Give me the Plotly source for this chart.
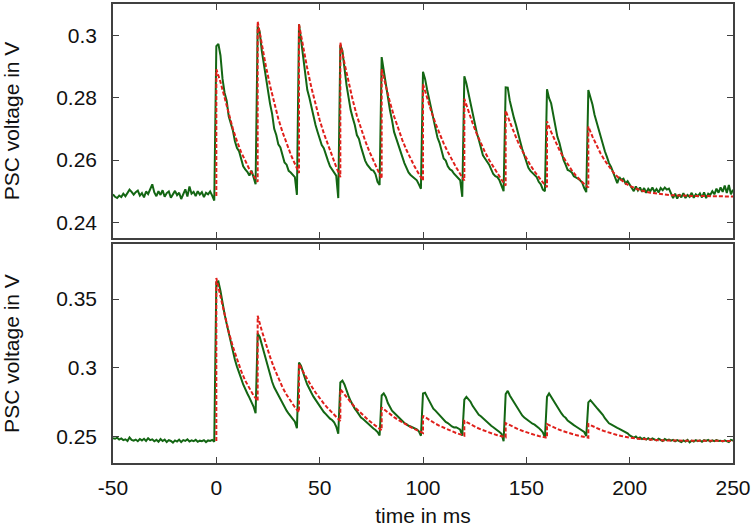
import numpy as np
import plotly.graph_objects as go

# ---------------- data ----------------
t_start, t_end = -50, 250          # sampling grid of the measured traces (1 ms)
stim_onsets = [0, 20, 40, 60, 80, 100, 120, 140, 160, 180]
x_tickvals = [-50, 0, 50, 100, 150, 200, 250]
x_ticktext = ["-50", "0", "50", "100", "150", "200", "250"]

# measured PSC, top panel (t = -50 ... 250 ms, 1 ms steps)
top_green = [
    # -50 .. -1 baseline
    0.2490, 0.2482, 0.2478, 0.2486, 0.2481, 0.2492, 0.2484, 0.2495, 0.2505, 0.2498,
    0.2489, 0.2497, 0.2502, 0.2486, 0.2494, 0.2480, 0.2499, 0.2491, 0.2510, 0.2522,
    0.2496, 0.2484, 0.2500, 0.2488, 0.2503, 0.2482, 0.2494, 0.2499, 0.2479, 0.2492,
    0.2501, 0.2487, 0.2495, 0.2475, 0.2490, 0.2506, 0.2483, 0.2515, 0.2492, 0.2498,
    0.2484, 0.2500, 0.2489, 0.2497, 0.2481, 0.2495, 0.2490, 0.2499, 0.2486, 0.2470,
    # 0 .. 19
    0.2965, 0.2972, 0.2935, 0.2860, 0.2815, 0.2790, 0.2740, 0.2718, 0.2695, 0.2660,
    0.2638, 0.2628, 0.2600, 0.2580, 0.2570, 0.2562, 0.2550, 0.2566, 0.2545, 0.2522,
    # 20 .. 39
    0.3028, 0.3010, 0.2950, 0.2905, 0.2870, 0.2810, 0.2780, 0.2748, 0.2700, 0.2680,
    0.2650, 0.2640, 0.2618, 0.2592, 0.2585, 0.2565, 0.2560, 0.2552, 0.2545, 0.2488,
    # 40 .. 59
    0.3035, 0.2985, 0.2925, 0.2870, 0.2825, 0.2800, 0.2768, 0.2738, 0.2712, 0.2690,
    0.2672, 0.2648, 0.2638, 0.2615, 0.2598, 0.2580, 0.2570, 0.2562, 0.2550, 0.2478,
    # 60 .. 79
    0.2968, 0.2950, 0.2890, 0.2840, 0.2800, 0.2760, 0.2735, 0.2712, 0.2680, 0.2668,
    0.2642, 0.2620, 0.2598, 0.2585, 0.2576, 0.2568, 0.2566, 0.2555, 0.2530, 0.2520,
    # 80 .. 99
    0.2930, 0.2885, 0.2840, 0.2790, 0.2760, 0.2728, 0.2690, 0.2670, 0.2648, 0.2625,
    0.2610, 0.2590, 0.2572, 0.2560, 0.2552, 0.2546, 0.2540, 0.2535, 0.2522, 0.2508,
    # 100 .. 119
    0.2883, 0.2860, 0.2825, 0.2795, 0.2760, 0.2735, 0.2700, 0.2672, 0.2655, 0.2625,
    0.2605, 0.2598, 0.2580, 0.2570, 0.2566, 0.2556, 0.2550, 0.2542, 0.2535, 0.2482,
    # 120 .. 139
    0.2868, 0.2845, 0.2812, 0.2780, 0.2750, 0.2720, 0.2688, 0.2665, 0.2640, 0.2615,
    0.2605, 0.2596, 0.2585, 0.2570, 0.2555, 0.2548, 0.2545, 0.2535, 0.2518, 0.2500,
    # 140 .. 159
    0.2833, 0.2832, 0.2790, 0.2760, 0.2735, 0.2712, 0.2682, 0.2660, 0.2635, 0.2615,
    0.2590, 0.2575, 0.2565, 0.2558, 0.2552, 0.2545, 0.2530, 0.2522, 0.2505, 0.2500,
    # 160 .. 179
    0.2827, 0.2798, 0.2782, 0.2745, 0.2705, 0.2675, 0.2655, 0.2625, 0.2600, 0.2585,
    0.2568, 0.2565, 0.2560, 0.2548, 0.2545, 0.2540, 0.2535, 0.2528, 0.2510, 0.2497,
    # 180 .. 250
    0.2824, 0.2800, 0.2778, 0.2745, 0.2720, 0.2695, 0.2672, 0.2650, 0.2628, 0.2610,
    0.2590, 0.2578, 0.2560, 0.2548, 0.2526, 0.2545, 0.2536, 0.2540, 0.2525, 0.2532,
    0.2520, 0.2508, 0.2500, 0.2515, 0.2502, 0.2512, 0.2498, 0.2510, 0.2495, 0.2508,
    0.2500, 0.2512, 0.2498, 0.2507, 0.2496, 0.2510, 0.2503, 0.2512, 0.2505, 0.2508,
    0.2490, 0.2478, 0.2492, 0.2476, 0.2490, 0.2480, 0.2494, 0.2478, 0.2488, 0.2482,
    0.2495, 0.2479, 0.2490, 0.2484, 0.2493, 0.2480, 0.2496, 0.2478, 0.2492, 0.2488,
    0.2500, 0.2490, 0.2508, 0.2495, 0.2512, 0.2498, 0.2518, 0.2494, 0.2520, 0.2490,
    0.2505,
]

# measured PSC, bottom panel (t = -50 ... 250 ms, 1 ms steps)
bot_green = [
    # -50 .. -1 baseline
    0.2490, 0.2486, 0.2494, 0.2480, 0.2488, 0.2476, 0.2482, 0.2470, 0.2496, 0.2478,
    0.2472, 0.2480, 0.2468, 0.2484, 0.2474, 0.2486, 0.2470, 0.2490, 0.2476, 0.2482,
    0.2468, 0.2478, 0.2464, 0.2484, 0.2470, 0.2480, 0.2462, 0.2476, 0.2470, 0.2458,
    0.2474, 0.2466, 0.2480, 0.2462, 0.2476, 0.2470, 0.2482, 0.2466, 0.2474, 0.2468,
    0.2478, 0.2464, 0.2472, 0.2468, 0.2476, 0.2462, 0.2474, 0.2470, 0.2478, 0.2465,
    # 0 .. 19
    0.3620, 0.3628, 0.3560, 0.3460, 0.3390, 0.3320, 0.3250, 0.3195, 0.3110, 0.3060,
    0.3010, 0.2960, 0.2925, 0.2880, 0.2840, 0.2815, 0.2785, 0.2755, 0.2720, 0.2672,
    # 20 .. 39
    0.3250, 0.3225, 0.3170, 0.3110, 0.3060, 0.3000, 0.2950, 0.2900, 0.2860, 0.2830,
    0.2800, 0.2770, 0.2740, 0.2715, 0.2690, 0.2668, 0.2650, 0.2625, 0.2610, 0.2562,
    # 40 .. 59
    0.3040, 0.3015, 0.2960, 0.2920, 0.2880, 0.2845, 0.2820, 0.2792, 0.2770, 0.2740,
    0.2720, 0.2698, 0.2680, 0.2665, 0.2645, 0.2632, 0.2622, 0.2605, 0.2575, 0.2522,
    # 60 .. 79
    0.2895, 0.2908, 0.2880, 0.2830, 0.2795, 0.2760, 0.2730, 0.2705, 0.2685, 0.2665,
    0.2640, 0.2630, 0.2615, 0.2600, 0.2585, 0.2572, 0.2560, 0.2550, 0.2535, 0.2510,
    # 80 .. 99
    0.2800, 0.2815, 0.2790, 0.2745, 0.2715, 0.2690, 0.2675, 0.2660, 0.2642, 0.2628,
    0.2612, 0.2600, 0.2592, 0.2580, 0.2575, 0.2568, 0.2562, 0.2555, 0.2540, 0.2508,
    # 100 .. 119
    0.2815, 0.2820, 0.2790, 0.2760, 0.2735, 0.2705, 0.2690, 0.2672, 0.2660, 0.2640,
    0.2620, 0.2608, 0.2600, 0.2585, 0.2575, 0.2568, 0.2570, 0.2562, 0.2552, 0.2508,
    # 120 .. 139
    0.2770, 0.2790, 0.2775, 0.2755, 0.2725, 0.2700, 0.2680, 0.2660, 0.2650, 0.2635,
    0.2622, 0.2612, 0.2590, 0.2580, 0.2570, 0.2556, 0.2545, 0.2535, 0.2522, 0.2468,
    # 140 .. 159
    0.2810, 0.2834, 0.2800, 0.2775, 0.2750, 0.2720, 0.2695, 0.2675, 0.2655, 0.2640,
    0.2628, 0.2620, 0.2608, 0.2595, 0.2588, 0.2578, 0.2565, 0.2550, 0.2532, 0.2495,
    # 160 .. 179
    0.2790, 0.2815, 0.2790, 0.2765, 0.2738, 0.2710, 0.2688, 0.2670, 0.2650, 0.2638,
    0.2618, 0.2605, 0.2598, 0.2585, 0.2575, 0.2566, 0.2558, 0.2548, 0.2535, 0.2505,
    # 180 .. 250
    0.2750, 0.2766, 0.2745, 0.2725, 0.2712, 0.2695, 0.2680, 0.2660, 0.2635, 0.2615,
    0.2598, 0.2590, 0.2580, 0.2572, 0.2565, 0.2558, 0.2550, 0.2545, 0.2532, 0.2525,
    0.2510, 0.2500, 0.2494, 0.2502, 0.2488, 0.2496, 0.2484, 0.2492, 0.2480, 0.2490,
    0.2478, 0.2488, 0.2482, 0.2474, 0.2486, 0.2478, 0.2470, 0.2484, 0.2476, 0.2480,
    0.2472, 0.2478, 0.2468, 0.2476, 0.2470, 0.2462, 0.2474, 0.2466, 0.2478, 0.2460,
    0.2472, 0.2466, 0.2476, 0.2468, 0.2474, 0.2464, 0.2476, 0.2470, 0.2478, 0.2466,
    0.2474, 0.2468, 0.2476, 0.2470, 0.2472, 0.2466, 0.2474, 0.2470, 0.2462, 0.2478,
    0.2472,
]

# model (red dashed): value at each stimulus onset before the jump, then the
# decay after each stimulus sampled at the offsets below (ms after onset)
red_offsets = [0, 2, 4, 6, 8, 10, 12, 14, 16, 18, 20]
red_tail_offsets = [0, 2, 4, 6, 8, 10, 12, 14, 16, 18, 20, 25, 30, 35, 40, 50, 60, 70]

top_red_rest = 0.2485
top_red = [
    [0.2891, 0.2850, 0.2800, 0.2745, 0.2700, 0.2660, 0.2625, 0.2598, 0.2570, 0.2550, 0.2530],
    [0.3044, 0.2970, 0.2900, 0.2838, 0.2782, 0.2732, 0.2690, 0.2652, 0.2618, 0.2588, 0.2558],
    [0.3035, 0.2962, 0.2893, 0.2832, 0.2777, 0.2728, 0.2686, 0.2648, 0.2612, 0.2578, 0.2545],
    [0.2977, 0.2910, 0.2848, 0.2792, 0.2742, 0.2700, 0.2662, 0.2628, 0.2598, 0.2568, 0.2540],
    [0.2891, 0.2836, 0.2785, 0.2740, 0.2700, 0.2664, 0.2632, 0.2604, 0.2578, 0.2555, 0.2534],
    [0.2843, 0.2798, 0.2756, 0.2718, 0.2684, 0.2653, 0.2626, 0.2600, 0.2577, 0.2555, 0.2534],
    [0.2796, 0.2755, 0.2718, 0.2684, 0.2653, 0.2625, 0.2600, 0.2578, 0.2556, 0.2537, 0.2518],
    [0.2758, 0.2722, 0.2688, 0.2657, 0.2630, 0.2605, 0.2583, 0.2563, 0.2545, 0.2528, 0.2513],
    [0.2724, 0.2690, 0.2660, 0.2632, 0.2608, 0.2586, 0.2567, 0.2550, 0.2536, 0.2523, 0.2512],
    [0.2707, 0.2675, 0.2646, 0.2620, 0.2598, 0.2578, 0.2561, 0.2547, 0.2535, 0.2525, 0.2517,
     0.2503, 0.2495, 0.2490, 0.2487, 0.2485, 0.2484, 0.2483],
]

bot_red_rest = 0.2470
bot_red = [
    [0.3653, 0.3520, 0.3385, 0.3262, 0.3155, 0.3060, 0.2978, 0.2908, 0.2850, 0.2800, 0.2761],
    [0.3379, 0.3270, 0.3170, 0.3080, 0.2998, 0.2925, 0.2860, 0.2805, 0.2757, 0.2715, 0.2679],
    [0.3030, 0.2972, 0.2918, 0.2868, 0.2822, 0.2780, 0.2742, 0.2707, 0.2675, 0.2645, 0.2615],
    [0.2846, 0.2806, 0.2768, 0.2733, 0.2700, 0.2670, 0.2642, 0.2616, 0.2592, 0.2570, 0.2548],
    [0.2713, 0.2688, 0.2665, 0.2643, 0.2623, 0.2604, 0.2587, 0.2571, 0.2556, 0.2542, 0.2528],
    [0.2652, 0.2632, 0.2613, 0.2596, 0.2580, 0.2566, 0.2552, 0.2540, 0.2528, 0.2518, 0.2508],
    [0.2616, 0.2598, 0.2582, 0.2567, 0.2554, 0.2542, 0.2531, 0.2521, 0.2512, 0.2504, 0.2497],
    [0.2600, 0.2584, 0.2569, 0.2556, 0.2544, 0.2533, 0.2523, 0.2514, 0.2506, 0.2499, 0.2493],
    [0.2592, 0.2577, 0.2563, 0.2551, 0.2540, 0.2530, 0.2521, 0.2513, 0.2506, 0.2499, 0.2494],
    [0.2592, 0.2577, 0.2563, 0.2551, 0.2540, 0.2530, 0.2521, 0.2513, 0.2506, 0.2500, 0.2494,
     0.2485, 0.2479, 0.2475, 0.2473, 0.2471, 0.2470, 0.2470],
]

# ---------------- build ----------------
t_grid = np.arange(t_start, t_end + 1)


def model_xy(rest, segs):
    xs, ys = [stim_onsets[0]], [rest]
    for k, seg in enumerate(segs):
        offs = red_tail_offsets if k == len(segs) - 1 else red_offsets
        xs += [stim_onsets[k] + o for o in offs]
        ys += seg
    return xs, ys


GREEN = "#136613"
RED = "#e0201b"
FONT = "Liberation Sans, Arial, sans-serif"
AX = "#404040"

fig = go.Figure()
fig.add_trace(go.Scatter(x=t_grid, y=top_green, mode="lines", xaxis="x", yaxis="y",
                         line=dict(color=GREEN, width=2), showlegend=False))
rx, ry = model_xy(top_red_rest, top_red)
fig.add_trace(go.Scatter(x=rx, y=ry, mode="lines", xaxis="x", yaxis="y",
                         line=dict(color=RED, width=2, dash="4px,2px"), showlegend=False))
fig.add_trace(go.Scatter(x=t_grid, y=bot_green, mode="lines", xaxis="x2", yaxis="y2",
                         line=dict(color=GREEN, width=2), showlegend=False))
rx, ry = model_xy(bot_red_rest, bot_red)
fig.add_trace(go.Scatter(x=rx, y=ry, mode="lines", xaxis="x2", yaxis="y2",
                         line=dict(color=RED, width=2, dash="4px,2px"), showlegend=False))

common_axis = dict(showline=True, linecolor=AX, linewidth=1.5, mirror="ticks",
                   ticks="inside", ticklen=6, tickwidth=1.3, tickcolor=AX,
                   showgrid=False, zeroline=False, automargin=False,
                   tickfont=dict(family=FONT, size=21, color="#111"))

fig.update_layout(
    width=756, height=528,
    margin=dict(l=113, r=23, t=4, b=65),
    paper_bgcolor="white", plot_bgcolor="white",
    font=dict(family=FONT, size=21, color="#111"),
    xaxis=dict(common_axis, domain=[0, 1], anchor="y", range=[t_start, t_end],
               tickvals=x_tickvals, showticklabels=False),
    xaxis2=dict(common_axis, domain=[0, 1], anchor="y2", range=[t_start, t_end],
                tickvals=x_tickvals, ticktext=x_ticktext, matches="x",
                ticklabelstandoff=5,
                title=dict(text="time in ms", standoff=10,
                           font=dict(family=FONT, size=21, color="#111"))),
    yaxis=dict(common_axis, domain=[0.4902, 1], anchor="x", range=[0.235, 0.31],
               tickvals=[0.24, 0.26, 0.28, 0.30], ticktext=["0.24", "0.26", "0.28", "0.3"],
               ticklabelstandoff=10,
               title=dict(text="PSC voltage in V", standoff=32,
                          font=dict(family=FONT, size=21, color="#111"))),
    yaxis2=dict(common_axis, domain=[0, 0.4771], anchor="x2", range=[0.231, 0.39],
                tickvals=[0.25, 0.30, 0.35], ticktext=["0.25", "0.3", "0.35"],
                ticklabelstandoff=10,
                title=dict(text="PSC voltage in V", standoff=32,
                           font=dict(family=FONT, size=21, color="#111"))),
)

fig.write_html("out.html", config={"displayModeBar": False},
               post_script="document.body.style.margin='0';")
